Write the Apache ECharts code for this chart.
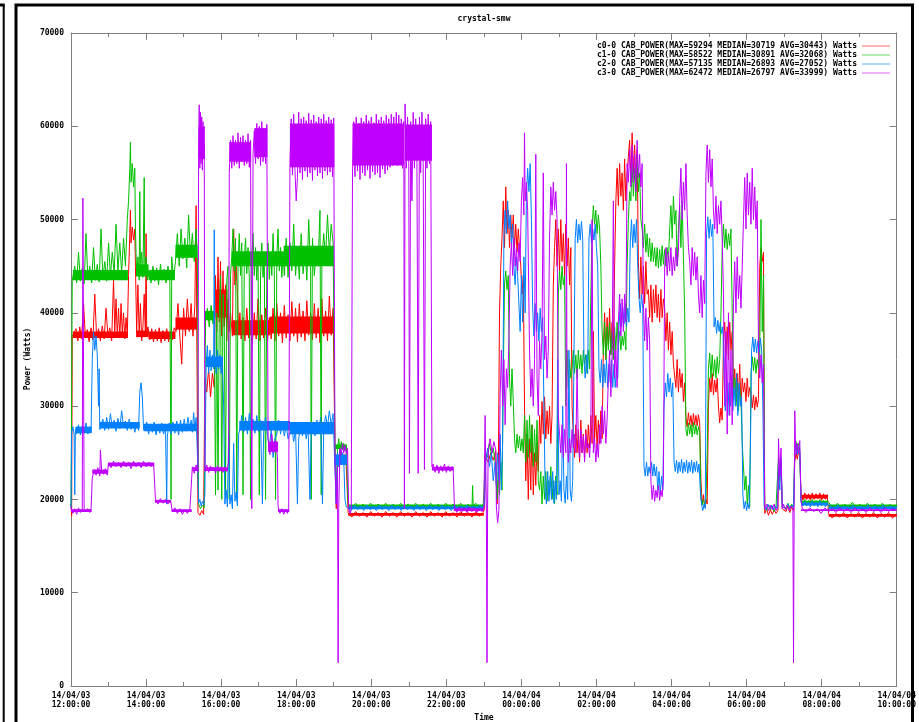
<!DOCTYPE html>
<html>
<head>
<meta charset="utf-8">
<script src="https://cdn.jsdelivr.net/npm/echarts@6/dist/echarts.min.js"></script>
<style>html,body{margin:0;padding:0;background:#fff;overflow:hidden;}#chart{width:919px;height:722px;}</style>
</head>
<body>
<div id="chart"></div>
<script>
// minutes since 14/04/03 12:00:00
var tickLabels = ["14/04/03\n12:00:00","14/04/03\n14:00:00","14/04/03\n16:00:00","14/04/03\n18:00:00","14/04/03\n20:00:00","14/04/03\n22:00:00","14/04/04\n00:00:00","14/04/04\n02:00:00","14/04/04\n04:00:00","14/04/04\n06:00:00","14/04/04\n08:00:00","14/04/04\n10:00:00"];
var seriesNames = [
 "c0-0 CAB_POWER(MAX=59294 MEDIAN=30719 AVG=30443) Watts",
 "c1-0 CAB_POWER(MAX=58522 MEDIAN=30891 AVG=32068) Watts",
 "c2-0 CAB_POWER(MAX=57135 MEDIAN=26893 AVG=27052) Watts",
 "c3-0 CAB_POWER(MAX=62472 MEDIAN=26797 AVG=33999) Watts"
];
var seriesColors = ["#ff0000","#00c000","#0080ff","#c000ff"];
var chartTitle = "crystal-smw";
var xAxisTitle = "Time";
var yAxisTitle = "Power (Watts)";

var c0Data = [
[0,19500],[1,18200],[2,37500],
[5,37300],[8,38300],[11,37000],[14,38500],[17,37200],[20,41000],[23,37400],[26,38200],[29,36900],[32,38400],[35,37100],[38,42000],[41,37300],[44,38300],[47,37000],[50,38600],[53,37200],[56,40500],[59,37500],[62,38400],[65,37000],[68,43500],[70,38000],[72,41500],[74,37500],[76,40500],[78,37300],[80,41000],[82,37800],[84,40000],[86,37200],[88,39500],[90,37500],
[92,44000],[94,48500],[95,51000],[96,47500],[98,49200],[100,47800],[102,49000],[103,45000],
[105,38000],[107,43000],[109,37500],[111,41000],[113,37000],[115,38500],[117,42000],[119,37500],[120,48500],[121,37800],[123,38500],
[126,37100],[129,38300],[132,36900],[135,38200],[138,37000],[141,38400],[144,36800],[147,38100],[150,37000],[153,38300],[156,36900],[159,38000],[162,37100],[165,38400],
[168,38000],[171,41000],[174,37500],[177,34500],[180,40500],[183,37500],[186,41500],[189,38000],[192,41000],[195,37500],[198,40800],[200,51500],[201,38500],
[203,18600],[206,18300],[209,18800],[212,18400],
[214,33000],[217,31500],[220,34000],[223,31000],[226,33500],[229,32000],[231,44000],[233,38000],[235,46000],[237,39000],[239,45500],[241,37500],[243,44500],[245,38500],[247,43000],[249,37000],[251,41500],[253,38000],[255,40000],
[258,37500],[260,49000],[262,43000],[264,45000],[266,42000],[268,38000],[270,40000],[272,37200],[275,39500],[278,37000],[281,40500],[284,37300],[287,39000],[290,36800],[293,40000],[296,37200],[299,41500],[302,37000],[305,39800],[308,37300],[311,40500],[314,37000],[317,39500],
[320,37200],[323,40500],[326,37000],[329,41000],[332,37500],[335,40000],[338,36800],[341,40800],[344,37300],[347,39800],[350,37000],[353,41200],[356,37500],[359,40500],[362,36900],[365,41000],[368,37400],[371,40200],[374,37000],[377,41300],[380,37600],[383,40000],[386,37100],[389,41000],[392,37300],[395,40500],[398,36800],[401,41500],[404,37500],[407,40200],[410,37000],[413,41800],[416,37600],[419,40500],
[422,25000],[424,19000],[426,24800],[428,23800],[430,25200],[432,24000],[434,25000],[436,23900],[438,24800],[440,23700],
[443,18600],[449,18100],[455,18700],[461,18200],[467,18600],[473,18100],[479,18700],[485,18200],[491,18600],[497,18100],[503,18700],[509,18200],[515,18600],[521,18100],[527,18700],[533,18200],[539,18600],[545,18100],[551,18700],[557,18200],[563,18600],[569,18100],[575,18700],[581,18200],[587,18600],[593,18100],[599,18700],[605,18200],[611,18600],[617,18100],[623,18700],[629,18200],[635,18600],[641,18100],[647,18700],[653,18200],[659,18600],
[661,19000],[663,24500],[667,24000],[671,25000],[675,24200],[679,25200],
[681,19500],[683,22000],[685,40000],[687,45000],
[689,48000],[691,52000],[693,47000],[695,53500],[697,48500],[699,51000],[701,47000],[703,50500],
[705,48000],[707,50500],[709,47000],[711,49500],[713,46500],[715,49000],[717,47000],[719,45000],[721,42000],[723,44000],
[725,30000],[727,22000],[729,27000],[731,20000],[733,26500],[735,21000],[737,28000],[739,20500],[741,25000],[743,21500],[745,26000],[747,23000],
[749,29000],[751,26000],[753,30500],[755,27000],[757,31000],[759,26500],[761,29500],[763,27000],[765,30000],[767,26000],[769,29000],[771,43000],
[773,47000],[775,50000],[777,45000],[779,49000],[781,44500],[783,50000],[785,45500],[787,48500],[789,44000],[791,49500],[793,45000],[795,48000],[797,43000],[799,47000],[801,30000],
[803,27000],[805,24500],[807,28000],[809,25000],[811,27500],[813,24000],[815,28500],[817,25000],[819,27000],[821,24500],[823,27500],[825,25000],
[827,28000],[829,25500],[831,29000],[833,26000],[835,38000],[837,26500],[839,29000],[841,25500],[843,28500],[845,26000],[847,29500],[849,26500],
[851,36000],[853,40000],[855,35000],[857,39500],[859,36500],[861,40500],[863,35500],[865,39000],[867,36000],[869,45000],
[871,52000],[873,55500],[875,51500],[877,56000],[879,52500],[881,55000],[883,51000],[885,56500],[887,52000],[889,55000],
[891,55000],[893,58500],[895,54000],[897,59300],[899,55000],[901,58000],[903,53500],[905,57500],
[907,45500],[909,41500],[911,46000],[913,42000],[915,45000],[917,41000],[919,45500],[921,42000],
[923,42500],[925,39500],[927,43000],[929,39000],[931,42500],[933,40000],[935,43000],[937,39500],[939,42000],[941,39000],[943,42500],[945,39500],[947,41500],
[949,40500],[951,37000],[953,40000],[955,36000],[957,39000],[959,35500],[961,38000],[963,34500],
[965,34500],[967,32000],[969,35000],[971,31500],[973,34000],[975,32000],[977,33500],[979,30500],[981,32500],
[983,28800],[985,27800],[987,29300],[989,28000],[991,29000],[993,27800],[995,29200],[997,28000],[999,29000],[1001,27900],[1003,29100],[1005,28200],[1007,22000],
[1009,19500],[1011,20500],[1013,19200],[1015,20000],[1017,19500],[1019,30000],
[1021,33000],[1023,31500],[1025,33500],[1027,31200],[1029,32800],[1031,31500],[1033,33000],
[1035,30000],[1037,28200],[1039,29800],[1041,28500],
[1043,37000],[1045,39000],[1047,35500],[1049,38500],[1051,35000],[1053,39000],[1055,36000],[1057,38000],
[1059,32000],[1061,34000],[1063,30500],[1065,33500],[1067,31000],[1069,34500],[1071,30000],[1073,33000],[1075,31500],[1077,32500],[1079,30500],[1081,33000],[1083,31000],[1085,32000],
[1087,31500],[1089,29800],[1091,31200],[1093,29600],[1095,31000],[1097,29900],[1099,30800],
[1101,45000],[1103,47000],[1105,45500],[1107,46500],
[1109,18500],[1112,19000],[1115,18300],[1118,18900],[1121,18400],[1124,18900],[1127,18500],
[1130,18800],[1131,23500],[1133,22000],[1135,24000],[1137,19000],
[1140,19200],[1143,18700],[1146,19300],[1149,18600],[1152,19200],[1155,18800],
[1157,24000],[1159,25000],[1161,24300],[1163,25200],[1165,24500],
[1167,20600],[1170,19900],[1173,20700],[1176,20000],[1179,20600],[1182,19900],[1185,20700],[1188,20000],[1191,20600],[1194,20100],[1197,20700],[1200,19900],[1203,20600],[1206,20000],[1209,20500],
[1211,18500],[1217,18000],[1223,18500],[1229,18100],[1235,18600],[1241,18000],[1247,18500],[1253,18100],[1259,18600],[1265,18000],[1271,18500],[1277,18100],[1283,18600],[1289,18000],[1295,18500],[1301,18100],[1307,18600],[1313,18000],[1320,18400]
];

var c1Data = [
[0,19300],[1,31000],[2,43500],[6,45000],[9,43200],[12,46500],[15,43400],[18,44800],[21,43100],[24,48500],[27,43600],[30,45000],[33,43200],[36,47000],[39,43500],[42,45200],[45,43300],[48,49000],[51,43700],[54,45500],[57,43400],[60,47500],[63,44000],[66,46500],[69,44200],[72,49500],[75,44500],[78,47500],[81,44300],[84,48000],[87,45000],[90,50000],
[92,52000],[94,55500],[95,58300],[96,54000],[98,56000],[100,53500],[102,55500],[103,49000],
[105,44000],[107,46000],[109,43500],[110,53000],[111,44500],[113,46500],[115,43800],[117,54500],[118,44000],[120,46000],[122,43500],
[125,44500],[128,43200],[131,45000],[134,43400],[137,44800],[140,43000],[143,45200],[146,43500],[149,44700],[152,43200],[155,45000],[158,43400],[160,20000],[161,46000],[164,43600],
[167,45500],[170,48500],[173,45000],[176,49000],[179,45800],[182,48000],[185,44800],[188,50500],[191,46000],[194,48500],[197,45500],[200,49000],[202,46000],
[204,19500],[207,19000],[210,19400],[213,19100],
[215,39000],[218,40500],[221,38500],[224,40800],[227,38800],[229,40000],
[231,20500],[233,40000],[235,21000],[237,39500],[239,44000],[241,20000],[243,42000],[245,38500],[247,20500],[249,43500],[251,45000],[253,20000],[255,44000],
[257,46000],[259,49000],[261,44500],[263,48000],[265,20000],[267,45000],[269,48500],[271,44000],[273,47500],[275,20500],[277,45500],[279,48000],[281,44200],[283,47000],[285,43800],[287,20000],[289,46000],[291,48500],[293,44000],[295,47000],[297,43500],[299,46500],[301,20500],[303,44000],[305,47500],[307,43800],[309,46000],[311,20000],[313,44500],[315,47500],[317,43600],[319,46500],[321,44000],[323,48500],[325,44500],[327,20000],[329,46000],[331,49000],[333,44500],[335,47000],[337,43800],[339,46500],
[341,44000],[344,48000],[347,43800],[350,47500],[353,44500],[356,49500],[359,44000],[362,47000],[365,43600],[368,48500],[371,44200],[374,47000],[377,43500],[380,50000],[383,44500],[384,20000],[386,48000],[389,44000],[392,46500],[395,45000],[398,51000],[400,20500],[401,45500],[404,48500],[407,46000],[410,50500],[413,46500],[416,49500],[419,47500],
[422,26000],[424,20000],[426,25500],[428,26500],[430,25000],[432,26200],[434,25300],[436,26000],[438,25200],[440,25800],
[443,19500],[449,19000],[455,19600],[461,19100],[467,19500],[473,19000],[479,19600],[485,19100],[491,19500],[497,19000],[503,19600],[509,19100],[515,19500],[521,19000],[527,19600],[533,19100],[539,19500],[545,19000],[551,19600],[557,19100],[563,19500],[569,19000],[575,19600],[581,19100],[587,19500],[593,19000],[599,19600],[605,19100],[611,19500],[617,19000],[623,19600],[629,19100],[635,19500],[641,19000],[642,21500],[643,19300],[647,19600],[653,19100],[659,19500],
[661,19500],[663,25000],[666,24500],[669,26000],[672,24800],[675,25500],[678,24000],
[681,20000],[683,23000],[685,20500],[687,24000],[689,21000],[691,33000],
[693,43000],[695,44500],[697,42500],[699,44000],[701,33000],[703,30000],[705,34000],[707,30500],
[709,26500],[711,25000],[713,27000],[715,25500],[717,26800],[719,25200],[721,26500],[723,25000],[725,29000],
[727,24000],[729,28500],[731,24500],[733,29000],[735,25000],[737,28000],[739,23500],[741,27500],[743,24000],[745,28500],[747,22000],
[749,21000],[751,23000],[753,19500],[755,22500],[757,20000],[759,23000],[761,19800],[763,22000],[765,20500],[767,23500],[769,20000],[771,22000],[773,19500],[775,22500],[777,20500],
[779,42000],[781,44500],[783,42500],[785,45000],[787,43000],[789,44000],[791,30000],[793,36000],[795,32000],[797,35000],[799,33000],
[801,34000],[803,36000],[805,33500],[807,35500],[809,33000],[811,36000],[813,34000],[815,35500],[817,33500],[819,36000],[821,34500],[823,35500],[825,33500],[827,36000],[829,34000],[831,42000],
[833,49000],[835,51500],[837,49500],[839,51000],[841,48500],[843,50500],[845,49000],[847,45000],
[849,38000],[851,35500],[853,39000],[855,35000],[857,38500],[859,36000],[861,39000],[863,35500],[865,38000],[867,35000],[869,38500],[871,36000],[873,39000],
[875,36500],[877,38000],[879,36000],[881,37500],[883,36500],[885,38000],[887,36000],[889,45000],[891,50000],[893,53000],
[895,52000],[897,56000],[899,52500],[901,55500],[903,52000],[905,56500],[907,53000],[909,55000],[911,50000],
[913,49000],[915,47000],[917,49500],[919,46500],[921,48500],[923,46000],[925,48000],[927,45500],[929,47500],[931,45500],[933,47000],
[935,45000],[937,47000],[939,44800],[941,46800],[943,45000],[945,47200],[947,45200],[949,46800],[951,45000],[953,47000],[955,45500],
[957,49000],[959,51500],[961,48000],[963,52500],[965,49500],[967,51000],[969,45000],[971,49000],[973,51500],[975,47000],[977,52000],[979,46000],[981,40000],
[983,27500],[985,26800],[987,28200],[989,27000],[991,28000],[993,26700],[995,28300],[997,27000],[999,28000],[1001,26900],[1003,27800],[1005,27200],[1007,20000],
[1009,19400],[1011,20000],[1013,19300],[1015,19900],[1017,25000],
[1019,34000],[1021,35700],[1023,33000],[1025,35500],[1027,33200],[1029,35000],[1031,33000],[1033,35300],[1035,33500],[1037,35000],
[1039,40000],[1041,47000],[1043,49500],[1045,47000],[1047,49000],[1049,46800],[1051,48500],[1053,47200],[1055,49000],[1057,40000],
[1059,31000],[1061,33000],[1063,30000],[1065,32500],[1067,29500],[1069,32000],[1071,30500],[1073,26000],
[1075,23500],[1077,21000],[1079,22500],[1081,19500],[1083,21500],[1085,19200],
[1087,33500],[1089,35300],[1091,33800],[1093,35200],[1095,33500],[1097,35000],[1099,34000],[1101,35300],
[1103,50000],[1105,38000],[1107,44000],
[1109,19200],[1112,18800],[1115,19400],[1118,18900],[1121,19300],[1124,18700],[1127,19200],
[1130,19000],[1131,24500],[1133,23000],[1135,24000],[1137,19500],
[1140,19500],[1143,19000],[1146,19600],[1149,19100],[1152,19500],[1155,19200],
[1157,25500],[1159,26200],[1161,25200],[1163,26000],[1165,25300],
[1167,19900],[1170,19500],[1173,20000],[1176,19600],[1179,19900],[1182,19500],[1185,20000],[1188,19600],[1191,19900],[1194,19500],[1197,20000],[1200,19600],[1203,19900],[1206,19500],[1209,19900],
[1213,19500],[1219,19000],[1225,19600],[1231,19100],[1237,19500],[1243,19000],[1249,19700],[1255,19100],[1261,19500],[1267,19000],[1273,19600],[1279,19100],[1285,19500],[1291,19000],[1297,19600],[1303,19100],[1309,19500],[1315,19000],[1320,19400]
];

var c2Data = [
[0,19000],[1,27200],[3,27800],[5,26900],[6,20500],[7,27500],
[9,27000],[12,28000],[15,26900],[18,27900],[21,27100],[24,28200],[27,27000],[30,27800],[32,27200],
[34,35000],[36,38000],[38,36000],[40,37500],[42,35500],[44,30000],[45,34000],[46,27500],
[48,27600],[51,28600],[54,27400],[57,28800],[60,27500],[63,29200],[66,27700],[69,28500],[72,27300],[75,28700],[78,27600],[81,29500],[84,27800],[87,28400],[90,27400],[93,28600],[96,27500],[99,28300],[102,27200],[105,28200],[108,27400],
[110,31500],[112,32500],[114,31000],[116,27500],
[118,27500],[121,28300],[124,27000],[127,28100],[130,27200],[133,28300],[136,26900],[139,28000],[142,27100],[145,28200],[148,27000],[151,27900],[153,19500],[154,26800],[157,28200],[160,27000],[163,28300],[166,27100],[169,28400],[172,26900],[175,28500],[178,27200],[181,28600],[184,27300],[187,28800],[190,27500],
[192,28500],[194,27200],[196,29300],[198,27500],[200,28800],[202,25000],
[204,19600],[206,20000],[208,19300],[210,19800],[212,19400],[214,20500],
[216,34500],[218,36500],[220,33500],[222,36000],[224,33800],[226,35500],[228,34000],[229,48900],[230,35000],[232,33500],[234,36000],[236,34000],[238,35500],[240,33500],[242,35000],[244,30000],
[246,19500],[248,21000],[250,19200],[252,27000],[254,19500],[256,20500],[258,19000],[260,26000],[262,19800],[264,20800],[266,19300],[268,27000],
[270,27500],[273,29000],[276,27200],[279,28800],[282,27000],[285,29200],[288,27400],[291,28600],[294,27100],[297,29000],[300,27300],[303,28500],[306,19500],[308,27200],[311,28800],[314,27000],[317,25500],[320,27500],[323,24500],[326,26500],[329,27000],[332,28500],[335,27000],[338,28200],[341,26800],[344,28000],[347,26500],
[350,26500],[353,27800],[356,26200],[359,27500],[362,19500],[364,26500],[367,27900],[370,26800],[373,28000],[376,26500],[379,27800],[382,20000],[384,27000],[387,28300],[390,26800],[393,28500],[396,27200],[399,28800],[402,19500],[404,27500],[407,29000],[410,27800],[413,29500],[416,28000],[419,29200],
[422,23000],[424,19500],[426,25000],[428,23500],[430,25200],[432,24000],[434,25000],[436,24300],[438,20000],[440,19200],
[443,19200],[448,18800],[453,19400],[458,18900],[463,19300],[468,18800],[473,19400],[478,18900],[483,19300],[488,18800],[493,19400],[498,18900],[503,19300],[508,18800],[513,19400],[518,18900],[523,19300],[528,18800],[533,19400],[538,18900],[543,19300],[548,18800],[553,19400],[558,18900],[563,19300],[568,18800],[573,19400],[578,18900],[583,19300],[588,18800],[593,19400],[598,18900],[603,19300],[608,18800],[613,19400],[618,18900],[623,19300],[628,18800],[633,19400],[638,18900],[643,19300],[648,18800],[653,19400],[658,18900],
[661,19500],[663,24000],[666,25500],[669,23500],[672,25000],[675,22000],[678,24000],
[680,21500],[682,25000],[684,22000],[686,27000],[688,21000],[690,26000],
[692,48000],[694,51000],[696,48500],[698,52000],[700,49000],[702,50500],[704,47500],[706,49500],
[708,45000],[710,43000],[712,46000],[714,44000],
[716,41000],[718,38000],[720,44000],[722,39000],[724,46000],[726,40000],
[728,52500],[730,55500],[732,53000],[734,56000],[736,50000],
[738,40500],[740,37500],[742,41000],[744,38000],[746,40000],[748,37000],[750,40500],[752,38000],[754,39500],[756,30000],
[758,21000],[760,19500],[762,23000],[764,19800],[766,22500],[768,20000],[770,23000],[772,19600],[774,22000],[776,20000],[778,35000],
[780,20500],[782,22000],[784,19800],[786,30000],[788,21000],[790,19600],[792,22500],[794,20000],[796,36000],[798,21000],[800,19800],[802,22000],[804,35000],
[806,48000],[808,50000],[810,47500],[812,49500],[814,47800],[816,49800],[818,48000],
[820,35000],[822,33000],[824,35500],[826,33500],
[828,48000],[830,49500],[832,47500],[834,49000],[836,47800],[838,49500],[840,47000],[842,45000],
[844,34000],[846,32500],[848,35000],[850,32000],[852,34500],[854,32500],[856,35000],[858,32000],[860,34500],[862,32500],[864,35000],[866,32000],[868,34500],[870,32000],[872,34000],[874,33000],
[876,38500],[878,41000],[880,38500],[882,40500],[884,38800],[886,41000],[888,38500],[890,40500],[892,39000],
[894,47500],[896,50000],[898,47000],[900,49500],[902,47500],[904,50000],[906,45000],
[908,41500],[910,40000],[912,42000],[914,40500],
[916,23500],[918,22500],[920,24000],[922,22500],[924,23500],[926,22800],[928,24000],[930,22500],[932,23800],[934,22500],[936,23500],[938,21000],[940,23000],[942,20500],[944,22500],[946,21000],
[948,30000],[950,32500],[952,31000],[954,33500],[956,31500],[958,33000],[960,31000],[962,32500],
[964,24000],[966,23000],[968,24200],[970,22800],[972,24000],[974,23000],[976,24300],[978,22800],[980,24000],[982,23000],[984,24200],[986,22800],[988,24000],[990,23000],[992,24200],[994,22800],[996,24000],[998,23000],[1000,24100],[1002,22900],[1004,23800],[1006,21000],
[1008,19500],[1010,18800],[1012,19500],[1014,19000],
[1016,48500],[1018,50300],[1020,48000],[1022,50000],[1024,48200],[1026,49500],
[1028,38500],[1030,39500],[1032,37800],[1034,39200],[1036,38000],[1038,39000],[1040,37800],[1042,38500],
[1044,33000],[1046,29500],[1048,33500],[1050,29000],[1052,32500],[1054,30000],[1056,33000],[1058,29500],[1060,32000],[1062,30000],[1064,33500],[1066,29000],[1068,32500],[1070,30000],[1072,31000],
[1074,20500],[1076,19000],[1078,19800],[1080,18800],[1082,19600],[1084,19000],[1086,25000],
[1088,36000],[1090,37400],[1092,35800],[1094,37200],[1096,35700],[1098,37000],[1100,35800],[1102,37300],[1104,36000],[1106,30000],
[1108,19300],[1111,18900],[1114,19500],[1117,19000],[1120,19400],[1123,18900],[1126,19300],[1129,19000],
[1131,23500],[1133,21000],[1135,24500],[1137,19200],
[1140,19400],[1143,19000],[1146,19500],[1149,19000],[1152,19400],[1155,19100],
[1157,25000],[1159,25800],[1161,24800],[1163,25600],[1165,25000],
[1167,19700],[1170,19300],[1173,19800],[1176,19300],[1179,19700],[1182,19200],[1185,19800],[1188,19300],[1191,19700],[1194,19200],[1197,19800],[1200,19300],[1203,19700],[1206,19200],[1209,19600],
[1214,19300],[1220,18900],[1226,19400],[1232,18900],[1238,19300],[1244,18800],[1250,19400],[1256,18900],[1262,19300],[1268,18800],[1274,19400],[1280,18900],[1286,19300],[1292,18800],[1298,19400],[1304,18900],[1310,19300],[1316,18800],[1320,19200]
];

var c3Data = [
[0,19200],[3,18500],[6,19000],[9,18400],[12,19100],[15,18600],[18,18900],[19,52300],[21,18700],[24,18500],[27,19000],[30,18600],[32,18900],
[34,22300],[37,23200],[40,22600],[43,23400],[46,22500],[47,25300],[49,23100],[52,22700],[55,23300],[58,22600],
[60,23900],[64,23400],[68,24100],[72,23500],[76,24000],[80,23400],[84,24100],[88,23500],[92,24000],[96,23300],[100,24100],[104,23500],[108,24000],[112,23400],[116,24100],[120,23500],[124,24000],[128,23500],[132,23900],
[135,20000],[139,19500],[143,20100],[147,19600],[151,20000],[155,19500],[159,19900],
[162,18700],[166,19100],[170,18500],[174,19000],[178,18400],[182,18900],[186,18500],[190,18900],
[194,23500],[197,22800],[200,23700],[203,23000],
[204,58000],[205,62300],[206,55500],[207,61500],[208,56000],[209,61000],[210,55300],[211,60500],[212,56500],[213,58000],
[214,23000],[217,23700],[220,22900],[223,23600],[226,23100],[229,23400],[231,22800],[234,23600],[237,23000],[240,23500],[243,22900],[246,23400],[249,23000],
[252,24000],[253,55000],[255,58500],[257,55500],[259,59000],[261,55800],[263,58500],[265,56000],[267,59300],[269,55500],[271,58800],[273,56200],[275,59000],[277,55800],[279,58500],[281,56000],[283,59200],[285,55600],[287,58500],
[289,19000],[291,57000],
[293,59500],[295,56000],[297,60300],[299,56500],[301,60000],[303,55800],[305,60500],[307,56200],[309,59800],[311,56000],[313,60200],
[315,26500],[318,24800],[321,27000],[324,25000],[327,26300],[330,24600],
[331,19200],[334,18500],[337,19000],[340,18400],[343,18900],[346,18500],[348,19000],
[350,56000],[352,60800],[354,54800],[356,61300],[358,55300],[360,52000],[362,54500],[364,61500],[366,55000],[368,60800],[370,54300],[372,61000],[374,55200],[376,60600],[378,54600],[380,61400],[382,55000],[384,60700],[386,54200],[388,61200],[390,55300],[392,60500],[394,54700],[396,61000],[398,55000],[400,60800],[402,54400],[404,61300],[406,55200],[408,60600],[410,54800],[412,61000],[414,55100],[416,60700],[418,54600],[420,60900],
[422,24000],[424,19500],[426,23500],[427,2500],[428,19000],[430,25500],[432,24800],[434,26000],[436,25000],[438,25800],[440,24900],[442,25500],
[444,19000],[446,18500],[448,18900],
[450,55000],[452,60500],[454,54600],[456,61000],[458,55200],[460,60300],[462,54300],[464,60900],[466,55000],[468,60500],[470,54700],[472,61200],[474,55300],[476,60600],[478,54400],[480,61000],[482,55100],[484,60400],[486,54800],[488,61300],[490,55000],[492,60700],[494,54500],[496,61000],[498,55400],[500,60600],[502,54900],[504,61200],[506,55300],[508,60800],[510,55600],[512,61300],[514,55800],[516,61000],[518,56000],[520,61500],[522,55800],[524,61200],[526,56200],[528,60800],[530,55500],
[532,60500],[533,19000],[534,62400],[536,55500],[538,61000],[540,56000],[541,22800],[543,60500],[545,52000],[547,61500],[549,55500],[551,60800],[553,56000],[555,22800],[557,61000],[559,55000],[561,61500],[563,56000],[565,23200],[567,60800],[569,55500],[571,61300],[573,56000],[575,60500],[577,23500],
[579,23800],[582,22900],[585,23700],[588,22800],[591,23600],[594,23000],[597,23800],[600,22900],[603,23600],[606,23000],[609,23500],[611,23100],
[613,19100],[617,18600],[621,19200],[625,18700],[629,19100],[633,18600],[637,19200],[641,18700],[645,19100],[649,18600],[653,19000],[657,18700],
[660,19000],[662,29000],[664,19000],[665,2500],[666,19500],[667,25500],[670,26500],[673,25000],[676,26200],[679,25300],
[680,19200],[682,17500],[684,18800],
[686,31000],[688,36000],[690,30000],[692,35000],[694,28000],[696,34000],[698,32000],[700,37000],
[702,45000],[704,47500],[706,44000],[708,48000],[710,45000],[712,47000],[714,44500],[716,47500],[718,45500],
[720,52000],[722,54500],[724,50500],[725,59300],[726,52000],[728,54000],[730,51000],
[733,36000],[735,31000],[737,34000],[739,30000],[741,35000],[743,57000],[745,33000],[747,29000],
[749,37000],[751,34000],[753,38000],[755,55000],[757,35000],[759,37500],[761,33000],[763,36000],
[765,48000],[767,53500],[769,50500],[771,54000],[773,51000],[775,53000],[777,50000],[779,29000],
[781,27000],[783,25000],[785,28000],[787,24500],[789,27500],[791,25000],[792,56000],[793,27000],[795,24000],[797,26500],[799,25000],[801,27500],[803,25500],
[805,27000],[807,25000],[809,34000],[811,26000],[813,24500],[815,27500],[817,25000],[819,26800],[821,24000],[823,27000],[825,25500],
[827,26000],[829,24500],[831,27000],[833,50000],[835,25000],[837,26500],[839,24000],[841,26000],[843,24500],
[845,28000],[847,26000],[849,30000],[851,27000],[853,29500],[855,26000],[857,28500],
[859,33000],[861,36000],[863,31000],[865,35000],[867,52000],[869,33000],[871,36000],[873,32000],
[875,39000],[877,42000],[879,37500],[881,41500],[883,38000],[885,42000],[887,39000],[889,56000],
[891,54000],[893,57500],[895,53500],[897,58000],[899,54000],[901,57000],[903,53000],[905,58500],[907,54500],[909,57000],[911,53500],[913,56000],
[915,41000],[917,37000],[919,40500],[921,36000],[923,39500],[925,37000],[927,22000],[929,20000],[931,21500],[933,19800],[935,21000],[937,20200],[939,21500],[941,19900],[943,21000],[945,20300],[947,22000],
[949,45000],[951,47000],[953,44000],[955,46500],[957,44500],[959,47000],[961,44000],[963,46000],[965,44500],[967,47000],[969,45000],[971,46500],
[973,52000],[975,55500],[977,50000],[979,54000],[981,51000],[983,56000],[985,50500],[987,47000],
[989,45500],[991,43000],[993,47000],[995,44000],[997,46500],[999,43500],[1001,46000],[1003,42000],
[1005,40000],[1007,44000],[1009,39500],[1011,43500],[1013,41000],
[1015,55000],[1017,58000],[1019,54000],[1021,57500],[1023,53500],[1025,56500],
[1027,51000],[1029,49000],[1031,52500],[1033,48500],[1035,51500],[1037,49500],[1039,52000],[1041,48000],
[1043,42000],[1045,30000],[1047,38000],[1049,27000],[1051,40000],[1053,29000],[1055,36000],[1057,28000],
[1059,41000],[1061,45500],[1063,40000],[1065,46000],[1067,41500],[1069,44000],[1071,40500],[1073,45000],
[1075,50000],[1077,54500],[1079,49000],[1081,55000],[1083,50500],[1085,54000],[1087,49500],[1089,55500],[1091,50000],[1093,53500],[1095,49000],[1097,52000],
[1099,36000],[1101,33000],[1103,35500],[1105,32500],[1107,34500],
[1109,19000],[1112,19500],[1115,18800],[1118,19400],[1121,18900],[1124,19500],[1127,18800],
[1130,19200],[1131,26500],[1133,22500],[1135,25500],[1137,19000],
[1139,19500],[1142,18900],[1145,19400],[1148,18800],[1151,19300],
[1154,19000],[1155,2500],[1156,19500],
[1157,29500],[1158,26500],[1159,24800],[1161,26000],[1163,25000],[1165,26300],[1167,20000],
[1169,19000],[1175,18600],[1181,19100],[1187,18700],[1193,19000],[1199,18500],[1205,19100],[1211,18700],[1217,19000],[1223,18600],[1229,19100],[1235,18700],[1241,19000],[1247,18600],[1253,19100],[1259,18700],[1265,19000],[1271,18600],[1277,19100],[1283,18700],[1289,19000],[1295,18600],[1301,19100],[1307,18700],[1313,19000],[1320,18800]
];

// dense noise cores: [startMinute, endMinute, low, high]
var c0Bands = [[3,91,37300,38000],[104,124,37400,38100],[124,167,37200,38000],[167,202,38200,39500],[231,250,39500,42500],[258,318,37600,39200],[318,421,37800,39600],[421,441,24100,24800],[443,660,18250,18550],[1167,1210,20100,20500],[1211,1320,18150,18450]];
var c1Bands = [[3,91,43500,44600],[104,124,43900,45200],[124,166,43500,44600],[167,202,45900,47300],[214,230,39200,40200],[257,340,45000,46600],[340,420,45000,47200],[421,441,25400,25900],[443,660,19150,19450],[1167,1210,19650,19850],[1211,1320,19150,19450]];
var c2Bands = [[7,33,27100,27800],[46,110,27600,28300],[116,202,27300,28100],[216,243,34200,35300],[269,350,27400,28400],[350,420,27000,28300],[421,441,23700,24800],[443,660,18950,19250],[1167,1210,19350,19650],[1211,1320,18950,19250]];
var c3Bands = [[0,33,18650,18950],[34,59,22750,23200],[59,133,23550,23950],[134,160,19650,19950],[161,193,18650,18950],[194,203,23050,23450],[204,214,56500,60000],[214,251,23050,23450],[253,288,56200,58300],[293,314,56700,59800],[315,331,25100,26200],[331,349,18650,18950],[350,421,55600,60300],[450,532,55800,60300],[534,577,56300,60200],[577,612,23100,23500],[612,660,18750,19050],[1167,1320,18750,18950]];

var allData = [c0Data, c1Data, c2Data, c3Data];
var allBands = [c0Bands, c1Bands, c2Bands, c3Bands];
var FONT = "'DejaVu Sans Mono', monospace";
var AXIS_COLOR = '#808080';
var TXT = {fontFamily: FONT, fontWeight: 'bold', fontSize: 8, color: '#000'};

var chart = echarts.init(document.getElementById('chart'), null, {renderer: 'canvas'});

function xAxisDef(pos, showLabels) {
  return {
    type: 'value', position: pos, min: 0, max: 1320, interval: 120,
    axisLine: {show: true, onZero: false, lineStyle: {color: AXIS_COLOR, width: 1}},
    axisTick: {show: true, inside: true, length: 7, lineStyle: {color: AXIS_COLOR}},
    minorTick: {show: true, splitNumber: 2, length: 4, lineStyle: {color: AXIS_COLOR}},
    splitLine: {show: false},
    axisLabel: {
      show: showLabels, margin: 5, lineHeight: 9,
      fontFamily: FONT, fontWeight: 'bold', fontSize: 8, color: '#000',
      formatter: function (v) { return tickLabels[Math.round(v / 120)] || ''; }
    }
  };
}
function yAxisDef(pos, showLabels) {
  return {
    type: 'value', position: pos, min: 0, max: 70000, interval: 10000,
    axisLine: {show: true, onZero: false, lineStyle: {color: AXIS_COLOR, width: 1}},
    axisTick: {show: true, inside: true, length: 7, lineStyle: {color: AXIS_COLOR}},
    splitLine: {show: false},
    axisLabel: {show: showLabels, margin: 7, fontFamily: FONT, fontWeight: 'bold', fontSize: 8, color: '#000',
      formatter: function (v) { return String(v); }}
  };
}

var series = [];
seriesNames.forEach(function (name, i) {
  var col = seriesColors[i];
  series.push({
    type: 'custom', data: allBands[i], xAxisIndex: 0, yAxisIndex: 0,
    encode: {x: [0, 1], y: [2, 3]}, clip: true, silent: true, animation: false, z: 2 + i,
    renderItem: function (params, api) {
      var pA = api.coord([api.value(0), api.value(3)]);
      var pB = api.coord([api.value(1), api.value(2)]);
      return {type: 'rect', shape: {x: pA[0], y: pA[1], width: pB[0] - pA[0], height: pB[1] - pA[1]}, style: {fill: col}};
    }
  });
  series.push({
    name: name, type: 'line', data: allData[i], xAxisIndex: 0, yAxisIndex: 0,
    symbol: 'none', showSymbol: false, sampling: null, smooth: false,
    lineStyle: {color: col, width: 1},
    itemStyle: {color: col},
    emphasis: {disabled: true}, silent: true, animation: false,
    z: 2 + i
  });
});

function txtStyle(text) {
  return {text: text, fill: '#000', font: "bold 8px " + FONT, align: 'center', verticalAlign: 'middle'};
}

chart.setOption({
  animation: false,
  backgroundColor: '#ffffff',
  legend: {
    orient: 'vertical', right: 24, top: 37, align: 'right',
    itemWidth: 28, itemHeight: 8, itemGap: 1,
    selectedMode: false,
    textStyle: TXT,
    data: seriesNames.map(function (n, i) { return {name: n, icon: 'path://M0,0L28,0L28,1L0,1Z', itemStyle: {color: seriesColors[i], opacity: 0.6}}; })
  },
  grid: {left: 71, right: 20, top: 33, bottom: 36, containLabel: false},
  xAxis: [xAxisDef('bottom', true), xAxisDef('top', false)],
  yAxis: [yAxisDef('left', true), yAxisDef('right', false)],
  series: series,
  graphic: [
    {type: 'text', x: 484, y: 19, style: txtStyle(chartTitle), silent: true, z: 50},
    {type: 'text', x: 484, y: 718, style: txtStyle(xAxisTitle), silent: true, z: 50},
    {type: 'text', x: 28, y: 359, rotation: Math.PI / 2, style: txtStyle(yAxisTitle), silent: true, z: 50},
    {type: 'rect', shape: {x: 16, y: 5, width: 896.5, height: 740}, style: {fill: 'none', stroke: '#000', lineWidth: 3}, silent: true, z: 100},
    {type: 'line', shape: {x1: 3.7, y1: 5, x2: 3.7, y2: 722}, style: {stroke: '#000', lineWidth: 2}, silent: true, z: 100},
    {type: 'line', shape: {x1: 0, y1: 5, x2: 4.7, y2: 5}, style: {stroke: '#000', lineWidth: 3}, silent: true, z: 100}
  ]
});
</script>
</body>
</html>
